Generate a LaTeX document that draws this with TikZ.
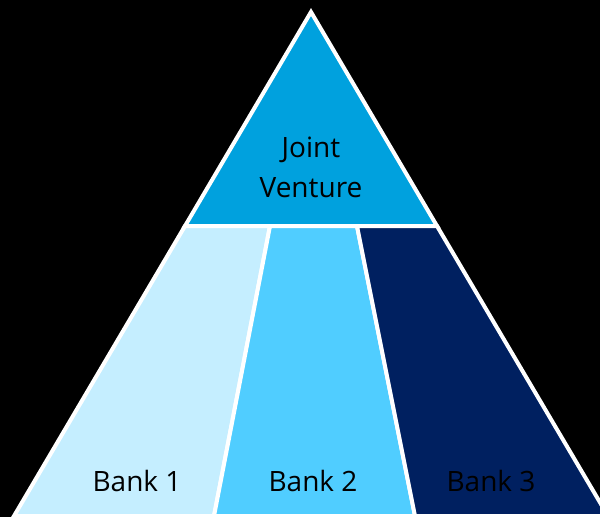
\documentclass[tikz,border=0pt]{standalone}
\usepackage{fontspec}
\setmainfont{Open Sans}
\usetikzlibrary{calc,positioning}

\definecolor{jvblue}{RGB}{0,161,222}
\definecolor{bankone}{RGB}{197,238,255}
\definecolor{banktwo}{RGB}{80,205,255}
\definecolor{bankthree}{RGB}{0,32,96}

\begin{document}
\begin{tikzpicture}[x=1pt, y=-1pt,
    piece/.style={draw=white, line width=4pt, line join=miter},
    banklabel/.style={font=\fontsize{28}{40}\selectfont, text=black, anchor=base, inner sep=0pt}]
    % frame
    \fill[black] (0,0) rectangle (600,517);
    \useasboundingbox (0,0) rectangle (600,517);

    \coordinate (apex) at (311,12);
    \coordinate (midleft) at (185,226);
    \coordinate (midright) at (437,226);
    \coordinate (baseleft) at (14,516);
    \coordinate (baseright) at (608,516);
    \coordinate (cutonetop) at (270,226);
    \coordinate (cutonebot) at (214,516);
    \coordinate (cuttwotop) at (357,226);
    \coordinate (cuttwobot) at (415,516);

    \filldraw[piece, fill=jvblue] (apex) -- (midright) -- (midleft) -- cycle;
    \filldraw[piece, fill=bankone] (midleft) -- (cutonetop) -- (cutonebot) -- (baseleft) -- cycle;
    \filldraw[piece, fill=banktwo] (cutonetop) -- (cuttwotop) -- (cuttwobot) -- (cutonebot) -- cycle;
    \filldraw[piece, fill=bankthree] (cuttwotop) -- (midright) -- (baseright) -- (cuttwobot) -- cycle;

    \node (jv) [banklabel, align=center] at (311,197) {Joint\\Venture};
    \node (bank1) [banklabel] at (137,491) {Bank 1};
    \node (bank2) [banklabel] at (313,491) {Bank 2};
    \node (bank3) [banklabel] at (491,491) {Bank 3};
\end{tikzpicture}
\end{document}
